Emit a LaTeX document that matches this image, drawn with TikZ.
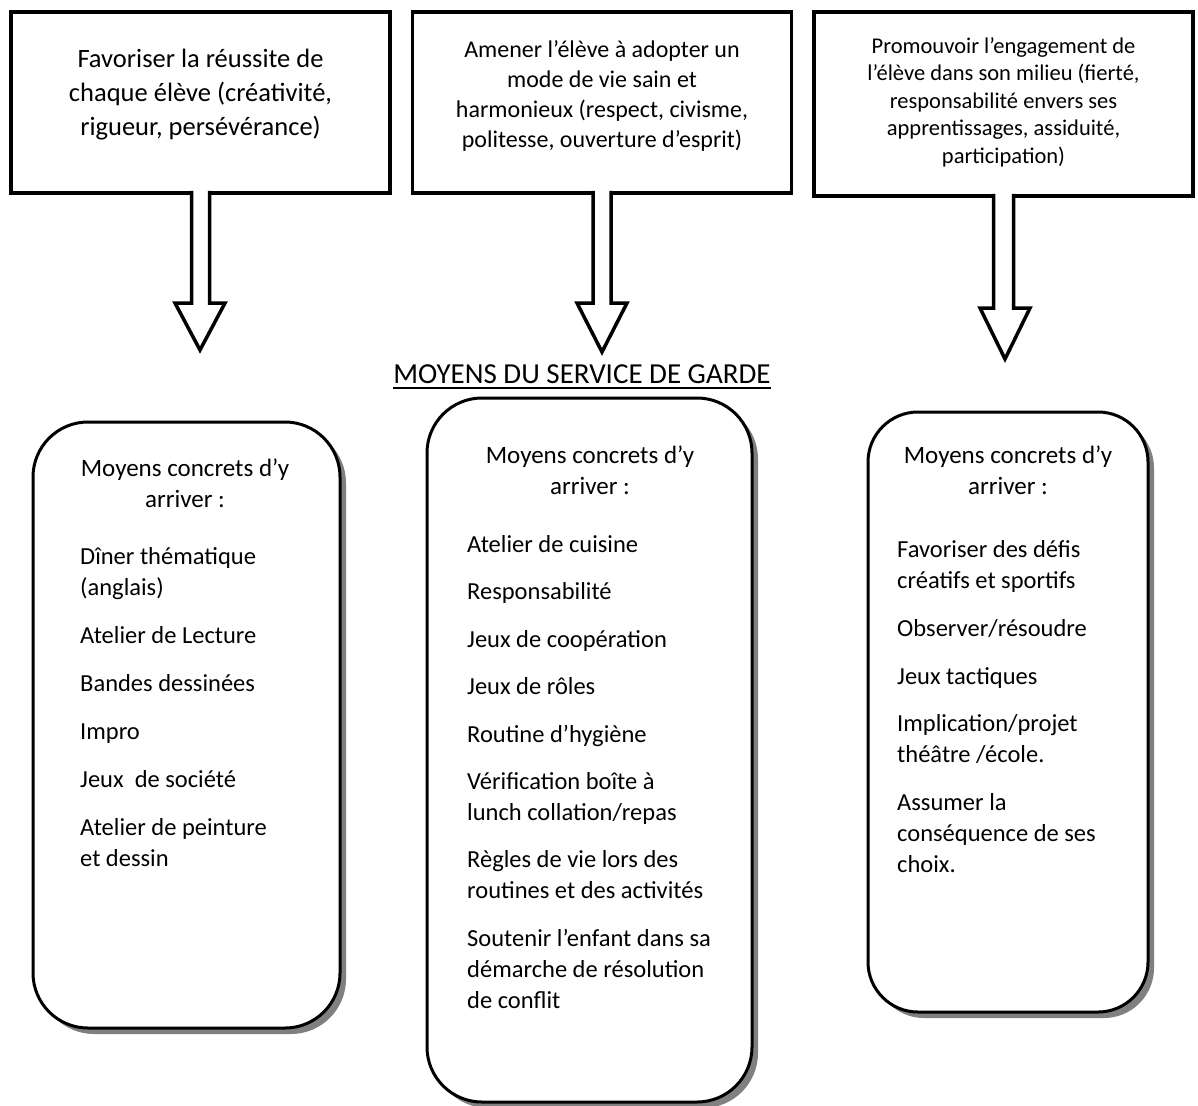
\documentclass[tikz,border=0pt]{standalone}
\usepackage{fontspec}
\setmainfont{Carlito}
\usetikzlibrary{positioning, calc, shadows}

\begin{document}
\begin{tikzpicture}[
  x=1pt, y=-1pt,
  goal/.style={rectangle, draw=black, line width=3.5pt, fill=white, minimum width=379pt, minimum height=181pt, inner sep=0},
  goaltxt/.style={align=center, inner sep=0},
  blockarr/.style={draw=black, fill=white, line width=3.5pt},
  moyen/.style={rectangle, rounded corners=55pt, draw=black, line width=3pt, fill=white,
    drop shadow={shadow xshift=6pt, shadow yshift=-6pt, fill=gray, opacity=1}, inner sep=0},
  hdr/.style={align=center, inner sep=0, anchor=north, font=\fontsize{25}{31}\selectfont},
  items/.style={align=left, inner sep=0, anchor=north west, font=\fontsize{24.5}{31}\selectfont},
]
\useasboundingbox (0,0) rectangle (1198,1105);

% Goals
\node[goal] (g1) at (200.5,102.5) {};
\node[goal, right=19pt of g1] (g2) {};
\node[goal, right=19pt of g2, minimum height=184pt, yshift=-1.5pt] (g3) {};

\node[goaltxt, font=\fontsize{26.5}{34}\selectfont] (g1t) at ($(g1.center)+(0,-8)$)
  {Favoriser la réussite de\\chaque élève (créativité,\\rigueur, persévérance)};
\node[goaltxt, font=\fontsize{24}{30}\selectfont] (g2t) at ($(g2.center)+(0,-7)$)
  {Amener l’élève à adopter un\\mode de vie sain et\\harmonieux (respect, civisme,\\politesse, ouverture d’esprit)};
\node[goaltxt, font=\fontsize{22.5}{27.5}\selectfont] (g3t) at ($(g3.center)+(0,-2)$)
  {Promouvoir l’engagement de\\l’élève dans son milieu (fierté,\\responsabilité envers ses\\apprentissages, assiduité,\\participation)};

% Block arrows
\coordinate (t1) at (200,350);
\coordinate (t2) at (602,352);
\coordinate (t3) at (1005,359);
\draw[blockarr] ($(g1.south)+(-9,-4)$) |- ($(t1)+(-25,-47)$) -- (t1) -- ($(t1)+(25,-47)$) -| ($(g1.south)+(9,-4)$);
\draw[blockarr] ($(g2.south)+(-9,-4)$) |- ($(t2)+(-25,-49)$) -- (t2) -- ($(t2)+(25,-49)$) -| ($(g2.south)+(9,-4)$);
\draw[blockarr] ($(g3.south)+(-10,-4)$) |- ($(t3)+(-25,-51)$) -- (t3) -- ($(t3)+(25,-51)$) -| ($(g3.south)+(10,-4)$);

% Title
\node[inner sep=0, anchor=base, font=\fontsize{29}{32}\selectfont] (ttl) at (582,383) {MOYENS DU SERVICE DE GARDE};
\draw[line width=2pt] ($(ttl.base west)+(0,5)$) -- ($(ttl.base east)+(0,5)$);

% Means boxes
\node[moyen, minimum width=307pt, minimum height=606pt] (mA) at (186.5,725) {};
\node[moyen, minimum width=325pt, minimum height=704pt] (mB) at (589.5,750) {};
\node[moyen, minimum width=280pt, minimum height=600pt, rounded corners=50pt] (mC) at (1008,712) {};

\node[hdr] (hA) at (185,459) {Moyens concrets d’y\\arriver :};
\node[hdr] (hB) at (590,446) {Moyens concrets d’y\\arriver :};
\node[hdr] (hC) at (1008,446) {Moyens concrets d’y\\arriver :};

\node[items] (lA) at (80,547) {Dîner thématique\\(anglais)\\[17pt]Atelier de Lecture\\[17pt]Bandes dessinées\\[17pt]Impro\\[17pt]Jeux\ \ de société\\[17pt]Atelier de peinture\\et dessin};
\node[items] (lB) at (467,535) {Atelier de cuisine\\[16pt]Responsabilité\\[17pt]Jeux de coopération\\[16pt]Jeux de rôles\\[17pt]Routine d’hygiène\\[16pt]Vérification boîte à\\lunch collation/repas\\[16pt]Règles de vie lors des\\routines et des activités\\[17pt]Soutenir l’enfant dans sa\\démarche de résolution\\de conflit};
\node[items] (lC) at (897,540) {Favoriser des défis\\créatifs et sportifs\\[17pt]Observer/résoudre\\[17pt]Jeux tactiques\\[16pt]Implication/projet\\théâtre /école.\\[17pt]Assumer la\\conséquence de ses\\choix.};

\end{tikzpicture}
\end{document}
